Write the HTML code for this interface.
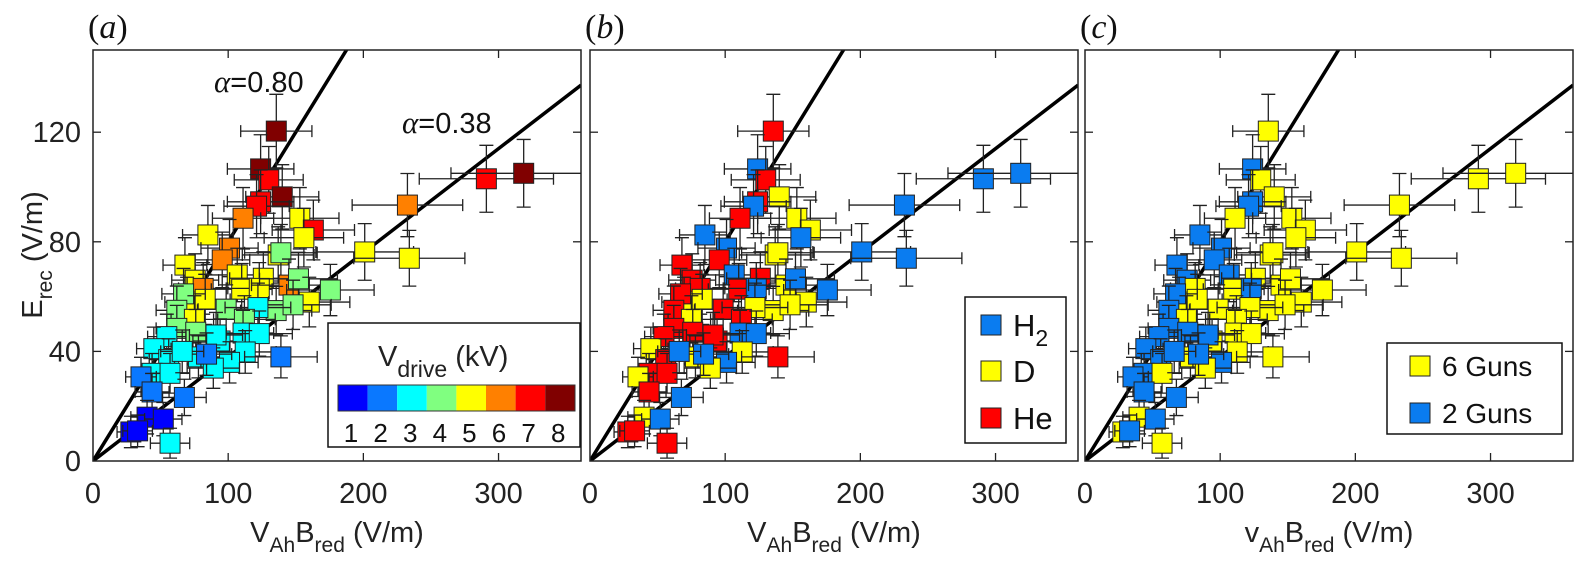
<!DOCTYPE html>
<html><head><meta charset="utf-8"><style>
html,body{margin:0;padding:0;background:#fff;}
svg{display:block;font-family:"Liberation Sans",sans-serif;}
</style></head><body>
<svg id="fig" width="1576" height="566" viewBox="0 0 1576 566" xmlns="http://www.w3.org/2000/svg"></svg>
<script>
// data: x = VAhBred (V/m), y = Erec (V/m), vdrive bin (1-8), gas, guns
const xs=[135.6,124,130,140,124,121,111,153,163,156,85,101,95.6,137,139,201,232.6,291,318.6,234,68,75.6,106.7,126,81.5,110,123,145,152,175.6,160,69.6,83,67,62,98.5,135.5,148,122,75,112,62,76,54.6,94,111,123,91,45,56,78,112.6,101,89,43.7,57,35.5,139,43.7,67.6,84,40,52,28,33,57,66];
const ys=[120.4,106.6,102.6,96.4,94.6,93,88.6,88.6,84.3,81.5,82.5,77.7,73.4,75.2,76,76.3,93.4,103,105,74,71.5,66,67.9,66.7,63,62.7,63,64.2,66.5,62.4,58,58,59,61,55,55.4,54.9,57,56,51.7,51.7,48.4,47,45.4,43.8,46.7,46.5,46,41,37,38,39.8,36,33.9,32,32,30.7,38,25.2,23.2,39,16,15.3,10.6,11,6.5,40];
const vdrive=[8,8,7,8,7,7,6,5,7,5,5,6,6,5,4,5,6,7,8,5,5,5,5,5,6,5,5,6,4,4,5,5,5,4,4,4,4,4,3,5,4,4,4,3,3,3,3,3,3,3,3,3,3,3,3,3,2,2,2,2,2,1,1,1,1,3,3];
const gas=["He","H2","He","D","He","H2","He","D","D","H2","H2","H2","He","D","D","H2","H2","H2","H2","H2","He","He","H2","He","He","He","H2","D","H2","H2","D","D","D","He","He","He","D","D","D","D","He","He","He","He","He","H2","H2","He","D","He","D","D","H2","D","He","He","D","He","He","H2","H2","D","H2","He","He","He","H2"];
const guns=[6,2,6,6,2,2,6,6,6,6,2,2,2,6,6,6,6,6,6,6,2,2,2,6,6,6,2,6,6,6,6,6,6,2,2,6,6,6,6,6,6,2,2,2,6,6,6,2,2,2,6,6,2,6,2,6,2,6,2,2,2,6,2,6,2,6,2];
const xTicks=[0,100,200,300];
const yTicks=[0,40,80,120];
const alphas=[0.80,0.38];
const jet=["#0000ff","#0a78ff","#00ffff","#80ff80","#ffff00","#ff8000","#ff0000","#800000"];
const gasColor={H2:"#0a7cf0",D:"#ffff00",He:"#ff0000"};
const gunColor={6:"#ffff00",2:"#0a7cf0"};

const NS="http://www.w3.org/2000/svg";
const svg=document.getElementById('fig');
function mk(tag,attrs,parent){const e=document.createElementNS(NS,tag);for(const k in attrs)e.setAttribute(k,attrs[k]);(parent||svg).appendChild(e);return e;}
const XMAX=361,YMAX=150,TOP=50,BOT=461,W=488;
const panels=[{ox:93,label:"(a)",xl:"V",mode:"v"},{ox:590,label:"(b)",xl:"V",mode:"g"},{ox:1085,label:"(c)",xl:"v",mode:"n"}];
const sy=v=>BOT-(v/YMAX)*(BOT-TOP);

panels.forEach((p,pi)=>{
  const sx=v=>p.ox+(v/XMAX)*W;
  const g=mk('g',{});
  
  
  const cid='clip'+pi;
  const cp=mk('clipPath',{id:cid},g);mk('rect',{x:p.ox,y:TOP,width:W,height:BOT-TOP},cp);
  alphas.forEach((a,ai)=>{
    const l=mk('line',{x1:sx(0),y1:sy(0),x2:sx(XMAX),y2:sy(a*XMAX),stroke:'#000','stroke-width':3.5,'clip-path':'url(#'+cid+')'},g);
    
    
  });
  const pg=mk('g',{'clip-path':'url(#'+cid+')'},g);
  for(let i=0;i<xs.length;i++){
    const x=xs[i],y=ys[i];
    const xe=0.15*x+6, ye=0.07*y+5;
    const cx=sx(x),cy=sy(y);
    const x1=sx(x-xe),x2=sx(x+xe),y1=sy(y-ye),y2=sy(y+ye);
    const eb=mk('path',{d:`M${x1},${cy}H${x2}M${cx},${y1}V${y2}M${x1},${cy-6}V${cy+6}M${x2},${cy-6}V${cy+6}M${cx-7},${y1}H${cx+7}M${cx-7},${y2}H${cx+7}`,stroke:'#222','stroke-width':1.3,fill:'none'},pg);
    
    
    let col=p.mode==='v'?jet[vdrive[i]-1]:p.mode==='g'?gasColor[gas[i]]:gunColor[guns[i]];
    const r=mk('rect',{x:cx-10,y:cy-10,width:20,height:20,fill:col,stroke:'#222','stroke-width':1},pg);
    
    
  }
  const fr=mk('rect',{x:p.ox,y:TOP,width:W,height:BOT-TOP,fill:'none',stroke:'#222','stroke-width':1.5},g);
  
  
  xTicks.forEach(t=>{
    const X=sx(t);
    if(t>0){mk('line',{x1:X,y1:BOT,x2:X,y2:BOT-8,stroke:'#222','stroke-width':1.3},g);mk('line',{x1:X,y1:TOP,x2:X,y2:TOP+8,stroke:'#222','stroke-width':1.3},g);}
    const tx=mk('text',{x:X,y:503,'font-size':29,'text-anchor':'middle',fill:'#222'},g);tx.textContent=t;
    
    
  });
  yTicks.forEach(t=>{
    const Y=sy(t);
    if(t>0){mk('line',{x1:p.ox,y1:Y,x2:p.ox+8,y2:Y,stroke:'#222','stroke-width':1.3},g);mk('line',{x1:p.ox+W,y1:Y,x2:p.ox+W-8,y2:Y,stroke:'#222','stroke-width':1.3},g);}
    if(pi===0){const ty=mk('text',{x:81,y:Y+10,'font-size':29,'text-anchor':'end',fill:'#222'},g);ty.textContent=t;
      
      }
  });
  const xt=mk('text',{x:p.ox+W/2,y:542,'font-size':29,'text-anchor':'middle',fill:'#222'},g);
  
  
  xt.innerHTML=p.xl+'<tspan dy="10" font-size="21">Ah</tspan><tspan dy="-10">B</tspan><tspan dy="10" font-size="21">red</tspan><tspan dy="-10"> (V/m)</tspan>';
  const pl=mk('text',{x:p.ox-5,y:38,'font-size':34,'font-style':'italic','font-family':'Liberation Serif, serif',fill:'#111'},g);
  
  
  pl.innerHTML='<tspan font-style="normal">(</tspan>'+p.label[1]+'<tspan font-style="normal">)</tspan>';
});
const yt=mk('text',{transform:'translate(42,255) rotate(-90)','font-size':29,'text-anchor':'middle',fill:'#222'});


yt.innerHTML='E<tspan dy="10" font-size="21">rec</tspan><tspan dy="-10"> (V/m)</tspan>';
[[214,92,"0.80"],[402,133,"0.38"]].forEach(a=>{
  const t=mk('text',{x:a[0],y:a[1],'font-size':29,fill:'#111'});
  
  
  t.innerHTML='<tspan font-family="Liberation Serif, serif" font-style="italic" font-size="31">α</tspan>='+a[2];
});
const la=mk('g',{});


mk('rect',{x:328,y:323,width:252,height:124,fill:'#fff',stroke:'#111','stroke-width':1.5},la);
const lt=mk('text',{x:378,y:366,'font-size':29,fill:'#222'},la);
lt.innerHTML='V<tspan dy="11" font-size="23">drive</tspan><tspan dy="-11"> (kV)</tspan>';
jet.forEach((c,i)=>{
  mk('rect',{x:338+i*29.6,y:385,width:29.6,height:26,fill:c},la);
  const n=mk('text',{x:338+i*29.6+13,y:442,'font-size':26,'text-anchor':'middle',fill:'#111'},la);n.textContent=i+1;
});
mk('rect',{x:338,y:385,width:237,height:26,fill:'none',stroke:'#333','stroke-width':1},la);
const lb=mk('g',{});


mk('rect',{x:965,y:297,width:101,height:146,fill:'#fff',stroke:'#111','stroke-width':1.5},lb);
[["H2","#0a7cf0",325],["D","#ffff00",371],["He","#ff0000",418]].forEach(e=>{
  mk('rect',{x:981,y:e[2]-10,width:20,height:20,fill:e[1],stroke:'#222'},lb);
  const t=mk('text',{x:1013,y:e[2]+11,'font-size':31,fill:'#111'},lb);
  t.innerHTML=e[0]==="H2"?'H<tspan dy="10" font-size="23">2</tspan>':e[0];
});
const lc=mk('g',{});


mk('rect',{x:1387,y:343,width:175,height:91,fill:'#fff',stroke:'#111','stroke-width':1.5},lc);
[["6 Guns","#ffff00",366],["2 Guns","#0a7cf0",413]].forEach(e=>{
  mk('rect',{x:1410,y:e[2]-10,width:20,height:20,fill:e[1],stroke:'#222'},lc);
  const t=mk('text',{x:1442,y:e[2]+10,'font-size':28,fill:'#111'},lc);t.textContent=e[0];
});
</script>
</body></html>
